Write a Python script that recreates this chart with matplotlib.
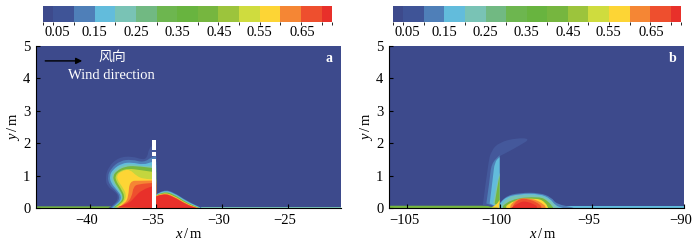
import matplotlib
matplotlib.use('Agg')
import matplotlib.pyplot as plt
from matplotlib.colors import ListedColormap, BoundaryNorm
from matplotlib.cm import ScalarMappable
from matplotlib.patches import PathPatch
from matplotlib.path import Path
from matplotlib.transforms import ScaledTranslation

plt.rcParams['font.family'] = ['Liberation Serif', 'Noto Sans CJK SC']
plt.rcParams['mathtext.fontset'] = 'custom'
plt.rcParams['mathtext.rm'] = 'Liberation Serif'
plt.rcParams['mathtext.it'] = 'Liberation Serif:italic'

# colour scale
level_edges = [0.025, 0.05, 0.10, 0.15, 0.20, 0.25, 0.30, 0.35, 0.40, 0.45, 0.50, 0.55, 0.60, 0.65, 0.70, 0.725]
level_colors = ['#3d4a8c', '#3f5497', '#4f7fb8', '#62bcdc', '#79c3b5', '#71b982', '#6db64f', '#68b43f',
                '#76b63f', '#9cc43c', '#cfdc3e', '#fdd535', '#f58634', '#ee4f2e', '#e8302a']
cbar_tick_pos = [0.06, 0.15, 0.25, 0.35, 0.452, 0.549, 0.654]
cbar_labels = ['0.05', '0.15', '0.25', '0.35', '0.45', '0.55', '0.65']

BLUE1, BLUE2, CYAN, TEAL, GREEN1, GREEN2, YGREEN, YELLOW, ORANGE, REDOR, RED = (
    '#44589b', '#4f7fb8', '#62bcdc', '#79c3b5', '#71b982', '#76b63f',
    '#c4d63e', '#fdd535', '#f58634', '#ee4f2e', '#e8302a')

# panel a, upwind deposit outlines (x, y)
a_up_blue1 = [(-38.61, 0), (-38.11, .12), (-37.85, .35), (-38.11, .5), (-38.69, .66), (-38.86, .92), (-38.61, 1.28), (-37.85, 1.56), (-36.84, 1.6), (-35.96, 1.48), (-35.66, 1.58), (-35.58, 1.79), (-35.3, 1.94), (-35.0, 1.94), (-35.0, 0)]
a_up_blue2 = [(-38.48, 0), (-37.98, .14), (-37.73, .35), (-38.11, .56), (-38.54, .71), (-38.69, .97), (-38.43, 1.22), (-37.73, 1.46), (-36.84, 1.5), (-35.96, 1.4), (-35.3, 1.58), (-35.0, 1.6), (-35.0, 0)]
a_up_cyan = [(-38.36, 0), (-37.85, .14), (-37.6, .35), (-37.98, .56), (-38.41, .76), (-38.54, .99), (-38.28, 1.19), (-37.6, 1.38), (-36.84, 1.41), (-35.96, 1.33), (-35.3, 1.43), (-35.0, 1.43), (-35.0, 0)]
a_up_teal = [(-38.28, .02), (-37.78, .14), (-37.55, .35), (-37.93, .58), (-38.31, .78), (-38.41, .99), (-38.16, 1.17), (-37.53, 1.33), (-36.72, 1.36), (-35.96, 1.28), (-35.0, 1.33), (-35.0, 0)]
a_up_green1 = [(-38.23, .02), (-37.73, .14), (-37.47, .35), (-37.85, .61), (-38.18, .81), (-38.28, .99), (-37.98, 1.15), (-37.35, 1.28), (-36.59, 1.3), (-35.0, 1.22), (-35.0, 0)]
a_up_ygreen = [(-38.11, .02), (-37.6, .14), (-37.35, .35), (-37.73, .64), (-38.03, .83), (-38.11, .99), (-37.78, 1.14), (-37.1, 1.22), (-36.21, 1.17), (-35.0, 1.1), (-35.0, 0)]
a_up_yellow = [(-37.98, .02), (-37.47, .14), (-37.22, .4), (-37.6, .68), (-37.93, .86), (-37.97, 1.02), (-37.6, 1.14), (-37.02, 1.2), (-36.46, .98), (-35.96, .9), (-35.0, .88), (-35.0, 0)]
a_up_orange = [(-37.9, .02), (-37.35, .14), (-37.1, .35), (-37.02, .84), (-36.21, .84), (-35.0, .85), (-35.0, 0)]
a_up_redor = [(-37.85, .02), (-37.22, .14), (-36.84, .35), (-36.72, .66), (-36.34, .74), (-35.0, .78), (-35.0, 0)]
a_up_red = [(-37.98, .02), (-37.1, .12), (-36.59, .35), (-36.09, .56), (-35.0, .71), (-35.0, 0)]

# panel a, downwind hump
a_down_blue1 = [(-35, .42), (-34.44, .57), (-33.69, .49), (-32.68, .22), (-31.54, 0), (-35, 0)]
a_down_cyan = [(-35, .41), (-34.44, .55), (-33.69, .47), (-32.68, .2), (-31.6, 0), (-35, 0)]
a_down_teal = [(-35, .4), (-34.44, .53), (-33.69, .45), (-32.68, .18), (-31.66, 0), (-35, 0)]
a_down_green = [(-35, .39), (-34.44, .51), (-33.69, .43), (-32.68, .16), (-31.72, 0), (-35, 0)]
a_down_yellow = [(-35, .38), (-34.44, .48), (-33.69, .39), (-32.68, .13), (-31.8, 0), (-35, 0)]
a_down_orange = [(-35, .37), (-34.44, .47), (-33.69, .37), (-32.68, .12), (-31.86, 0), (-35, 0)]
a_down_red = [(-35, .36), (-34.44, .45), (-33.69, .35), (-32.68, .1), (-31.92, 0), (-35, 0)]

# ground strips
a_strip_left = [(-44.1, 0), (-44.1, .05), (-38.2, .05), (-37.9, 0)]
a_strip_right = [(-31.6, 0), (-31.6, .03), (-21, .03), (-21, 0)]
b_strip_left = [(-106, 0), (-106, .07), (-100.7, .07), (-100, 0)]
b_strip_right = [(-96.6, 0), (-96.6, .05), (-90, .05), (-90, 0)]

# tower segments in panel a: (bottom, top)
tower_left, tower_right = -35.3, -35.0
tower_segments = [(0, 1.52), (1.6, 1.72), (1.78, 2.09)]

# panel b, upwind plume
b_plume_faint = [(-100.91, .09), (-100.63, 1.37), (-100.45, 1.78), (-100.0, 2.03), (-99.09, 2.16), (-98.32, 2.14), (-98.91, 1.93), (-99.55, 1.73), (-100.0, 1.6), (-100.0, 0)]
b_plume_blue2 = [(-100.72, .14), (-100.54, .86), (-100.45, 1.37), (-100.0, 1.63), (-100.0, 0)]
b_plume_cyan = [(-100.54, .14), (-100.36, .96), (-100.27, 1.42), (-100.0, 1.57), (-100.0, 0)]
b_plume_teal = [(-100.36, .14), (-100.18, .72), (-100.0, 1.1), (-100.0, 0)]
b_plume_green = [(-100.27, .14), (-100.09, .76), (-100.0, 1.01), (-100.0, 0)]
b_plume_yellow = [(-100.45, .02), (-100.18, .09), (-100.0, .25), (-100.0, 0)]

# panel b, downwind hump
b_hump_blue2 = [(-100, .14), (-99.73, .36), (-98.91, .47), (-97.83, .47), (-97.19, .33), (-96.92, .12), (-96.01, .02), (-96.01, 0), (-100, 0)]
b_hump_cyan = [(-100, .1), (-99.82, .31), (-98.91, .44), (-97.83, .44), (-97.24, .29), (-97.0, .08), (-96.56, 0), (-100, 0)]
b_hump_teal = [(-99.91, .09), (-99.64, .31), (-98.91, .41), (-97.83, .41), (-97.28, .26), (-97.01, .09), (-96.8, 0), (-99.91, 0)]
b_hump_green = [(-99.82, .06), (-99.46, .28), (-97.83, .36), (-97.37, .21), (-97.1, .02), (-97.1, 0), (-99.82, 0)]
b_hump_yellow = [(-99.64, .06), (-99.28, .25), (-97.92, .31), (-97.5, .16), (-97.37, 0), (-99.64, 0)]
b_hump_orange = [(-99.42, .06), (-99.18, .3), (-98.19, .3), (-97.55, .1), (-97.5, 0), (-99.42, 0)]
b_hump_redor = [(-99.28, .06), (-99.06, .29), (-98.37, .28), (-97.74, .09), (-97.74, 0), (-99.28, 0)]
b_hump_red = [(-99.37, 0), (-98.91, .2), (-98.46, .2), (-98.0, .07), (-97.97, 0)]

a_strips = [(a_strip_left, GREEN2), (a_strip_right, TEAL)]
a_layers = [
    (a_up_blue1, BLUE1), (a_up_blue2, BLUE2), (a_up_cyan, CYAN), (a_up_teal, TEAL),
    (a_up_green1, GREEN2), (a_up_ygreen, YGREEN), (a_up_yellow, YELLOW),
    (a_up_orange, ORANGE), (a_up_redor, REDOR), (a_up_red, RED),
    (a_down_blue1, BLUE2), (a_down_cyan, CYAN), (a_down_teal, TEAL), (a_down_green, GREEN2),
    (a_down_yellow, YELLOW), (a_down_orange, ORANGE), (a_down_red, RED),
]
b_strips = [(b_strip_left, GREEN2), (b_strip_right, CYAN)]
b_layers = [
    (b_plume_faint, BLUE1), (b_plume_blue2, BLUE2), (b_plume_cyan, CYAN), (b_plume_teal, TEAL),
    (b_plume_green, GREEN2), (b_plume_yellow, YELLOW),
    (b_hump_blue2, BLUE2), (b_hump_cyan, CYAN), (b_hump_teal, TEAL), (b_hump_green, GREEN2),
    (b_hump_yellow, YELLOW), (b_hump_orange, ORANGE), (b_hump_redor, REDOR), (b_hump_red, RED),
]

W, H = 700, 243


def axes_px(fig, left, right, top, bottom):
    return fig.add_axes([left / W, 1 - bottom / H, (right - left) / W, (bottom - top) / H])


def smooth_patch(outline, color):
    # quadratic curve using the outline points as control points, last two stay corners
    verts = [outline[0]]
    codes = [Path.MOVETO]
    for i in range(1, len(outline) - 2):
        p = outline[i]
        q = outline[i + 1]
        verts += [p, ((p[0] + q[0]) / 2, (p[1] + q[1]) / 2)]
        codes += [Path.CURVE3, Path.CURVE3]
    verts += [outline[-2], outline[-1], outline[0]]
    codes += [Path.LINETO, Path.LINETO, Path.CLOSEPOLY]
    return PathPatch(Path(verts, codes), facecolor=color, edgecolor='none', linewidth=0)


def draw_panel(fig, ax, strips, layers, xlim, xticks, letter):
    ax.set_facecolor(level_colors[0])
    for outline, color in strips:
        xs, ys = zip(*outline)
        ax.fill(xs, ys, color=color, linewidth=0)
    for outline, color in layers:
        ax.add_patch(smooth_patch(outline, color))
    ax.set_xlim(*xlim)
    ax.set_ylim(0, 5)
    ax.set_xticks(xticks)
    ax.set_xticklabels(['\u2212%d' % abs(t) for t in xticks])
    ax.set_yticks(range(6))
    ax.tick_params(direction='in', length=3, width=0.8, labelsize=10.5, pad=4)
    # digits sit over the tick, the minus hangs to the left
    shift = ScaledTranslation(-3 / 100, 0, fig.dpi_scale_trans)
    for label in ax.get_xticklabels():
        label.set_transform(label.get_transform() + shift)
    for side in ['top', 'right']:
        ax.spines[side].set_visible(False)
    ax.set_xlabel(r'$\mathit{x}\,/\,\mathrm{m}$', fontsize=10.5, labelpad=0)
    ax.set_ylabel(r'$\mathit{y}\,/\,\mathrm{m}$', fontsize=10.5, labelpad=1)
    ax.text(0.96, 0.92, letter, transform=ax.transAxes, color='white', fontsize=10,
            fontweight='bold', ha='center', va='center')


def draw_colorbar(fig, left, right):
    cax = axes_px(fig, left, right, 6, 22)
    sm = ScalarMappable(norm=BoundaryNorm(level_edges, len(level_colors)), cmap=ListedColormap(level_colors))
    cb = fig.colorbar(sm, cax=cax, orientation='horizontal', spacing='proportional', ticks=cbar_tick_pos, drawedges=False)
    cb.outline.set_visible(False)
    cb.set_ticklabels(cbar_labels)
    cb.ax.tick_params(length=0, labelsize=10.5, pad=3)


fig = plt.figure(figsize=(7.0, 2.43), dpi=100)

ax_a = axes_px(fig, 36, 341, 46, 208)
draw_panel(fig, ax_a, a_strips, a_layers, (-44.1, -21.0), [-40, -35, -30, -25], 'a')
for seg_bottom, seg_top in tower_segments:
    ax_a.fill([tower_left, tower_right, tower_right, tower_left], [seg_bottom, seg_bottom, seg_top, seg_top],
              color='white', linewidth=0, zorder=3)
ax_a.annotate('', xy=(-40.6, 4.54), xytext=(-43.4, 4.54),
              arrowprops=dict(arrowstyle='-|>', color='black', lw=1, mutation_scale=9, shrinkA=0, shrinkB=0))
ax_a.text(-38.3, 4.66, '风向', color='white', fontsize=10, ha='center', va='center', family='Noto Sans CJK SC')
ax_a.text(-38.4, 4.1, 'Wind direction', color='white', fontsize=10.5, ha='center', va='center')

ax_b = axes_px(fig, 389, 684, 46, 208)
draw_panel(fig, ax_b, b_strips, b_layers, (-106.0, -90.0), [-105, -100, -95, -90], 'b')
ax_b.xaxis.label.set_x(0.522)

draw_colorbar(fig, 43, 332)
draw_colorbar(fig, 393, 681)

fig.savefig('out.png', dpi=100)
